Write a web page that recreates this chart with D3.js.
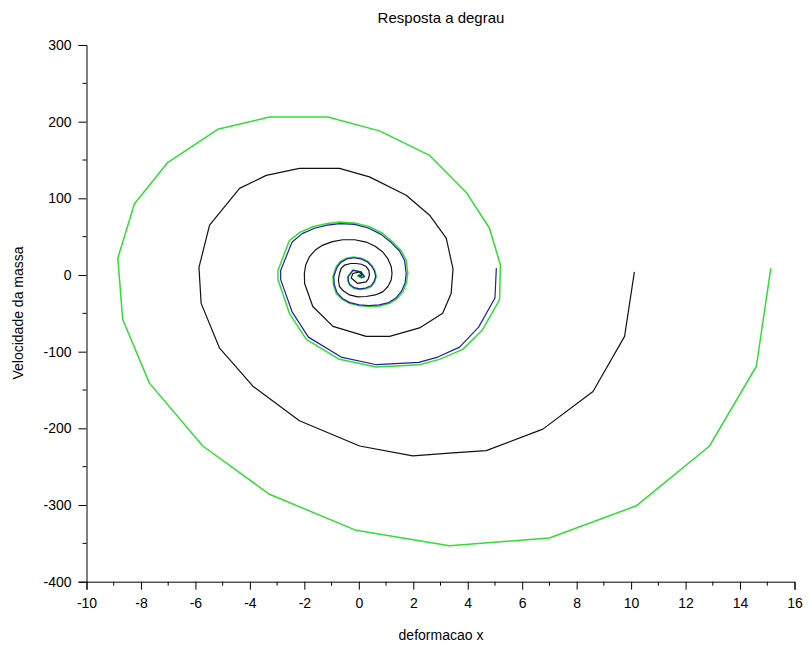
<!DOCTYPE html>
<html>
<head>
<meta charset="utf-8">
<script src="https://cdn.jsdelivr.net/npm/d3@7"></script>
<style>
  html, body { margin: 0; padding: 0; background: #fff; }
  svg text { font-family: "Liberation Sans", Arial, sans-serif; fill: #000; }
</style>
</head>
<body>
<svg id="chart" width="810" height="652"></svg>
<script>
// ---- Data ----
const chartTitle = "Resposta a degrau";
const xLabel = "deformacao x";
const yLabel = "Velocidade da massa";

const xTicks = [-10, -8, -6, -4, -2, 0, 2, 4, 6, 8, 10, 12, 14, 16];
const yTicks = [-400, -300, -200, -100, 0, 100, 200, 300];

// Green trajectory (starts at x = 15)
const greenX = [15.13, 14.6, 12.88, 10.19, 7.0, 3.33, -0.1, -3.28, -5.73, -7.69, -8.67, -8.85,
  -8.24, -7.01, -5.18, -3.28, -1.14, 0.76, 2.6, 3.94, 4.8, 5.2, 5.17, 4.55, 3.82, 2.96, 2.23, 0.64,
  -0.71, -1.93, -2.55, -2.97, -2.97, -2.55, -2.15, -1.69, -1.2, -0.71, -0.15, 0.39, 0.85, 1.25, 1.55,
  1.74, 1.8, 1.75, 1.62, 1.4, 1.13, 0.77, 0.39, 0.02, -0.34, -0.62, -0.83, -0.93, -0.95, -0.83,
  -0.68, -0.46, -0.19, 0.09, 0.33, 0.51, 0.6, 0.64, 0.58, 0.46, 0.26, 0.03, -0.18, -0.34, -0.39,
  -0.4, -0.22, 0.09, 0.21, 0.1, -0.05, 0.06, 0.0];
const greenV = [9, -119, -223, -301, -343, -353, -333, -286, -223, -141, -58, 22,
  93, 147, 190, 206, 206, 188, 156, 108, 61, 13, -32, -71, -97, -110, -117, -120,
  -110, -84, -50, -6, 6, 45, 56, 63, 67, 69, 68, 63, 55, 43, 32,
  19.5, 2, -10, -22, -31, -37, -40.5, -41, -40, -37, -31.5, -24, -13, -2, 11,
  17.5, 22, 23.5, 22, 18, 11, 5, -2, -9, -15, -18, -19, -17.5, -13, -8,
  -2, 6.5, 4, -2, -4, -1, 1, 0];

// Black trajectory (starts at x = 10)
const blackX = [10.12, 9.76, 8.6, 6.76, 4.68, 3.45, 1.98, 0.03, -2.18, -3.89, -5.12, -5.79, -5.87,
  -5.48, -4.38, -3.4, -2.18, -0.71, 0.39, 1.74, 2.6, 3.21, 3.46, 3.39, 3.08, 2.23, 1.13, 0.27,
  -0.95, -1.69, -1.99, -2.0, -1.95, -1.81, -1.6, -1.32, -0.97, -0.59, -0.15, 0.27, 0.6, 0.88, 1.07,
  1.19, 1.22, 1.19, 1.07, 0.88, 0.6, 0.27, -0.04, -0.34, -0.56, -0.71, -0.75, -0.71, -0.65, -0.52,
  -0.3, -0.1, 0.1, 0.27, 0.37, 0.39, 0.35, 0.27, -0.04, -0.28, -0.22, 0.03, 0.12, 0.03, 0.0];
const blackV = [4, -80, -152, -201, -229, -232, -236, -223, -190, -145, -95, -37, 10,
  65, 113, 130, 139, 139, 128, 104, 78, 48, 8, -24, -50, -69, -80, -80,
  -67, -41, -11, 2, 13, 24, 32.5, 39, 43.5, 46, 46, 43, 37.5, 30, 21,
  11, 2, -6.5, -15, -22, -26, -28, -28.5, -26, -21, -15, -6.5, 2, 8.5, 13,
  15, 15, 14, 11, 6, 0, -5, -9, -11, -4, 2, 4, 0, -2, 0];

// Blue trajectory (starts at x = 5)
const blueX = [5.05, 5.0, 4.4, 3.7, 2.9, 2.2, 0.65, -0.65, -1.85, -2.45, -2.87, -2.87, -2.45,
  -2.08, -1.63, -1.16, -0.69, -0.15, 0.37, 0.82, 1.2, 1.5, 1.68, 1.74, 1.7, 1.57, 1.36, 1.1, 0.75,
  0.38, 0.02, -0.33, -0.6, -0.8, -0.9, -0.92, -0.8, -0.66, -0.44, -0.18, 0.08, 0.32, 0.49, 0.58,
  0.62, 0.56, 0.45, 0.25, 0.03, -0.17, -0.33, -0.39, -0.39, -0.21, 0.08, 0.2, 0.1, 0.0];
const blueV = [9, -30, -68, -94, -107, -114, -117, -107, -81, -48, -6, 6, 43,
  54, 61, 65, 67, 66, 61, 53, 42, 31, 19, 2, -10, -21, -30, -36, -39,
  -40, -39, -36, -30.5, -23, -12.5, -2, 10, 16.5, 21, 22.5, 21, 17, 10.5, 4.5,
  -2, -8.5, -14, -17, -18, -16.5, -12.5, -7.5, -2, 6, 4, -2, -3, 0];

// ---- Chart ----
const svg = d3.select("#chart");
svg.append("rect").attr("width", 810).attr("height", 652).attr("fill", "#fff");

const x = d3.scaleLinear().domain([-10, 16]).range([86.5, 794.5]);
const y = d3.scaleLinear().domain([-400, 300]).range([581.7, 45]);

const line = d3.line().x(d => x(d[0])).y(d => y(d[1]));

function draw(xs, vs, color, w) {
  svg.append("path")
    .datum(xs.map((d, i) => [d, vs[i]]))
    .attr("fill", "none")
    .attr("stroke", color)
    .attr("stroke-width", w)
    .attr("stroke-linejoin", "round")
    .attr("d", line);
}
draw(greenX, greenV, "#33dd33", 1.5);
draw(blackX, blackV, "#111111", 1.2);
draw(blueX, blueV, "#1c22a0", 1.2);

const fmt = d => String(d);

// X axis
const xMinor = d3.range(-9, 16, 2);
const xAxis = svg.append("g").attr("transform", `translate(0,${y(-400)})`)
  .call(d3.axisBottom(x).tickValues(xTicks).tickSize(8).tickPadding(8).tickFormat(fmt));
xAxis.selectAll("text").attr("font-size", 14).attr("font-family", "Liberation Sans, Arial, sans-serif");
xAxis.append("g").selectAll("line").data(xMinor).join("line")
  .attr("x1", d => x(d)).attr("x2", d => x(d)).attr("y1", 0).attr("y2", 4).attr("stroke", "#000");

// Y axis
const yMinor = d3.range(-350, 300, 100);
const yAxis = svg.append("g").attr("transform", `translate(${x(-10)},0)`)
  .call(d3.axisLeft(y).tickValues(yTicks).tickSize(8).tickPadding(7).tickFormat(fmt));
yAxis.selectAll("text").attr("font-size", 14).attr("font-family", "Liberation Sans, Arial, sans-serif");
yAxis.append("g").selectAll("line").data(yMinor).join("line")
  .attr("x1", 0).attr("x2", -4).attr("y1", d => y(d)).attr("y2", d => y(d)).attr("stroke", "#000");

svg.selectAll(".domain").attr("stroke", "#000");

// Titles
svg.append("text").attr("x", 441).attr("y", 23).attr("text-anchor", "middle")
  .attr("font-size", 15).text(chartTitle);
svg.append("text").attr("x", 441).attr("y", 640).attr("text-anchor", "middle")
  .attr("font-size", 14).text(xLabel);
svg.append("text").attr("transform", "translate(23,313) rotate(-90)").attr("text-anchor", "middle")
  .attr("font-size", 14).text(yLabel);
</script>
</body>
</html>
